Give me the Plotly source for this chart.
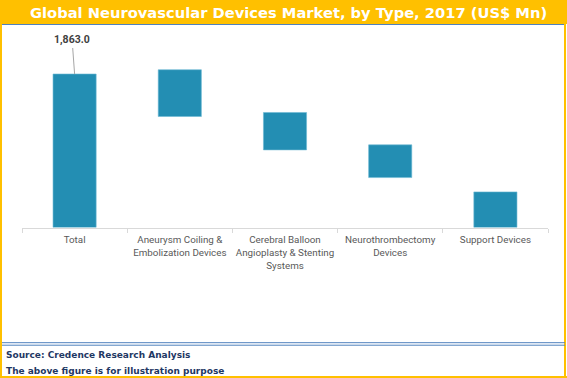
import plotly.graph_objects as go

categories = ["Total", "Aneurysm Coiling &<br>Embolization Devices",
              "Cerebral Balloon<br>Angioplasty & Stenting<br>Systems",
              "Neurothrombectomy<br>Devices", "Support Devices"]
bar_bottom = [0, 1347, 942, 606, 0]
bar_top = [1863, 1915, 1396, 1003, 432]
total_label = "1,863.0"

W, H = 567, 378
def px_x(p):
    return p / W
def px_y(p):
    return 1 - p / H

heights = [t - b for t, b in zip(bar_top, bar_bottom)]

fig = go.Figure()
fig.add_trace(go.Bar(
    x=categories, y=heights, base=bar_bottom,
    marker=dict(color="#238EB3", line=dict(color="#6BB8D3", width=0.6)),
    width=0.41, hoverinfo="skip", cliponaxis=False,
))

shapes = [
    dict(type="rect", xref="paper", yref="paper", x0=0, x1=1, y0=px_y(24), y1=1,
         fillcolor="#FFC000", line=dict(width=0), layer="below"),
    dict(type="line", xref="paper", yref="paper", x0=px_x(2), x1=px_x(565), y0=px_y(24.5), y1=px_y(24.5),
         line=dict(color="#4F81BD", width=1)),
    dict(type="line", xref="paper", yref="paper", x0=px_x(1), x1=px_x(1), y0=0, y1=1,
         line=dict(color="#FFC000", width=2)),
    dict(type="line", xref="paper", yref="paper", x0=px_x(565), x1=px_x(565), y0=0, y1=1,
         line=dict(color="#FFC000", width=2)),
    dict(type="line", xref="paper", yref="paper", x0=0, x1=1, y0=px_y(377), y1=px_y(377),
         line=dict(color="#FFC000", width=2)),
    dict(type="line", xref="paper", yref="paper", x0=px_x(2), x1=px_x(565), y0=px_y(342.7), y1=px_y(342.7),
         line=dict(color="#4F81BD", width=1)),
    dict(type="line", xref="paper", yref="paper", x0=px_x(2), x1=px_x(565), y0=px_y(345.2), y1=px_y(345.2),
         line=dict(color="#4F81BD", width=1)),
]

annotations = [
    dict(text="Global Neurovascular Devices Market, by Type, 2017 (US$ Mn)",
         xref="paper", yref="paper", x=px_x(288), y=px_y(12.5), xanchor="center", yanchor="middle",
         showarrow=False, font=dict(family="DejaVu Sans", size=14.7, color="white", weight="bold")),
    dict(text="Source: Credence Research Analysis", xref="paper", yref="paper",
         x=px_x(3.5), y=px_y(354.6), xanchor="left", yanchor="middle", showarrow=False,
         font=dict(family="DejaVu Sans", size=9, color="#1F3864", weight="bold")),
    dict(text="The above figure is for illustration purpose", xref="paper", yref="paper",
         x=px_x(3.5), y=px_y(371), xanchor="left", yanchor="middle", showarrow=False,
         font=dict(family="DejaVu Sans", size=9, color="#1F3864", weight="bold")),
    dict(text=total_label, x=categories[0], y=bar_top[0], xref="x", yref="y",
         showarrow=True, arrowhead=0, arrowwidth=1, arrowcolor="#A6A6A6",
         ax=-2.5, ay=-34, standoff=0,
         font=dict(family="Roboto", size=10.5, color="#404040", weight="bold")),
]

fig.update_layout(
    width=W, height=H,
    margin=dict(l=0, r=0, t=0, b=0),
    paper_bgcolor="white", plot_bgcolor="white",
    showlegend=False,
    shapes=shapes, annotations=annotations,
    xaxis=dict(domain=[px_x(22), px_x(548)], type="category",
               showline=True, linecolor="#D9D9D9", linewidth=1,
               ticks="outside", tickson="boundaries", ticklen=4, tickcolor="#D9D9D9",
               ticklabelstandoff=3, tickangle=0, automargin=False,
               tickfont=dict(family="Roboto", size=9.8, color="#595959"),
               showgrid=False, zeroline=False, fixedrange=True),
    yaxis=dict(domain=[px_y(227.5), px_y(38)], range=[0, 2300],
               visible=False, showgrid=False, zeroline=False, fixedrange=True),
    bargap=0.59,
)

fig.write_html("out.html", config={"displayModeBar": False},
               post_script="document.body.style.margin='0';document.body.style.padding='0';document.body.style.overflow='hidden';")
